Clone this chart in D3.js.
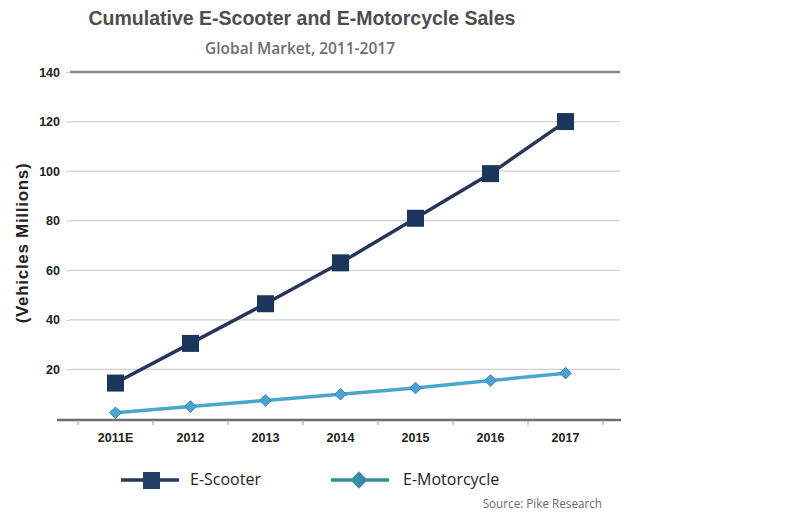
<!DOCTYPE html>
<html>
<head>
<meta charset="utf-8">
<script src="https://cdn.jsdelivr.net/npm/d3@7"></script>
<style>
  body { margin: 0; background: #fff; }
  svg { display: block; }
</style>
</head>
<body>
<script>
// data
const years = ['2011E', '2012', '2013', '2014', '2015', '2016', '2017'];
const scooter = [14.5, 30.5, 46.5, 63, 81, 99, 120];
const motorcycle = [2.5, 5, 7.5, 10, 12.5, 15.5, 18.5];
const yTicks = [20, 40, 60, 80, 100, 120, 140];

const W = 812, H = 520;
const svg = d3.select('body').append('svg').attr('width', W).attr('height', H);

const x = d3.scaleBand().domain(years).range([78, 603]);
const y = d3.scaleLinear().domain([0, 140]).range([419, 72]);
const cx = d => x(d) + x.bandwidth() / 2;

// titles
svg.append('text').attr('x', 302).attr('y', 25).attr('text-anchor', 'middle')
  .style('font', 'bold 19.5px "Liberation Sans", Arial, sans-serif').attr('fill', '#4d4d4d')
  .text('Cumulative E-Scooter and E-Motorcycle Sales');
svg.append('text').attr('x', 300).attr('y', 54).attr('text-anchor', 'middle')
  .style('font', '600 15.5px "Open Sans", sans-serif').attr('fill', '#6e6e6e')
  .text('Global Market, 2011-2017');

// gridlines
svg.append('g').selectAll('line').data(yTicks).join('line')
  .attr('x1', 70).attr('x2', 620)
  .attr('y1', d => y(d)).attr('y2', d => y(d))
  .attr('stroke', d => d === 140 ? '#8a8a8a' : '#d0d0d0')
  .attr('stroke-width', d => d === 140 ? 2.5 : 1.3);

// y axis labels
const yAxis = svg.append('g').attr('transform', 'translate(70,0)')
  .call(d3.axisLeft(y).tickValues(yTicks).tickSize(4).tickPadding(6));
yAxis.select('.domain').remove();
yAxis.selectAll('line').attr('stroke', '#cfcfcf');
yAxis.selectAll('text').style('font', 'bold 12.5px "Liberation Sans", Arial, sans-serif').attr('fill', '#222');

svg.append('text').attr('transform', 'translate(28,243) rotate(-90)').attr('text-anchor', 'middle')
  .style('font', 'bold 17px "Liberation Sans", Arial, sans-serif').style('letter-spacing', '0.7px')
  .attr('fill', '#222')
  .text('(Vehicles Millions)');

// x axis
const xAxis = svg.append('g').attr('transform', 'translate(0,419)')
  .call(d3.axisBottom(x).tickSize(0).tickPadding(14));
xAxis.select('.domain').remove();
xAxis.selectAll('text').style('font', 'bold 12.5px "Liberation Sans", Arial, sans-serif').attr('fill', '#222');
svg.append('line').attr('x1', 57).attr('x2', 621).attr('y1', 420).attr('y2', 420)
  .attr('stroke', '#6e6e6e').attr('stroke-width', 2.5);
svg.append('g').selectAll('line').data(years.concat(['end'])).join('line')
  .attr('x1', (d, i) => 78 + i * x.bandwidth()).attr('x2', (d, i) => 78 + i * x.bandwidth())
  .attr('y1', 420).attr('y2', 425).attr('stroke', '#9a9a9a').attr('stroke-width', 1);

// series
const line = d3.line().x((d, i) => cx(years[i])).y(d => y(d));

svg.append('path').datum(motorcycle).attr('d', line)
  .attr('fill', 'none').attr('stroke', '#4aa6cc').attr('stroke-width', 3.5);
svg.append('g').selectAll('path').data(motorcycle).join('path')
  .attr('d', d3.symbol(d3.symbolDiamond2, 85))
  .attr('transform', (d, i) => `translate(${cx(years[i])},${y(d)})`)
  .attr('fill', '#4aa3d4').attr('stroke', '#3a7fa8').attr('stroke-width', 1);

svg.append('path').datum(scooter).attr('d', line)
  .attr('fill', 'none').attr('stroke', '#27355a').attr('stroke-width', 3.5);
svg.append('g').selectAll('rect').data(scooter).join('rect')
  .attr('x', (d, i) => cx(years[i]) - 8.5).attr('y', d => y(d) - 8.5)
  .attr('width', 17).attr('height', 17).attr('fill', '#1b365d');

// legend
const leg = svg.append('g');
leg.append('line').attr('x1', 121).attr('x2', 179).attr('y1', 480).attr('y2', 480)
  .attr('stroke', '#243a5e').attr('stroke-width', 3.5);
leg.append('rect').attr('x', 143).attr('y', 472).attr('width', 17).attr('height', 17).attr('fill', '#243f66');
leg.append('text').attr('x', 190).attr('y', 485)
  .style('font', '16px "Open Sans", sans-serif').attr('fill', '#222').text('E-Scooter');

leg.append('line').attr('x1', 331).attr('x2', 389).attr('y1', 480).attr('y2', 480)
  .attr('stroke', '#3a8ca3').attr('stroke-width', 3.5);
leg.append('path').attr('d', d3.symbol(d3.symbolDiamond2, 190))
  .attr('transform', 'translate(359,480)').attr('fill', '#3a8ca3');
leg.append('text').attr('x', 403).attr('y', 485)
  .style('font', '16px "Open Sans", sans-serif').attr('fill', '#222').text('E-Motorcycle');

svg.append('text').attr('x', 602).attr('y', 508).attr('text-anchor', 'end')
  .style('font', '11.7px "Open Sans", sans-serif').attr('fill', '#6a6a6a')
  .text('Source: Pike Research');
</script>
</body>
</html>
